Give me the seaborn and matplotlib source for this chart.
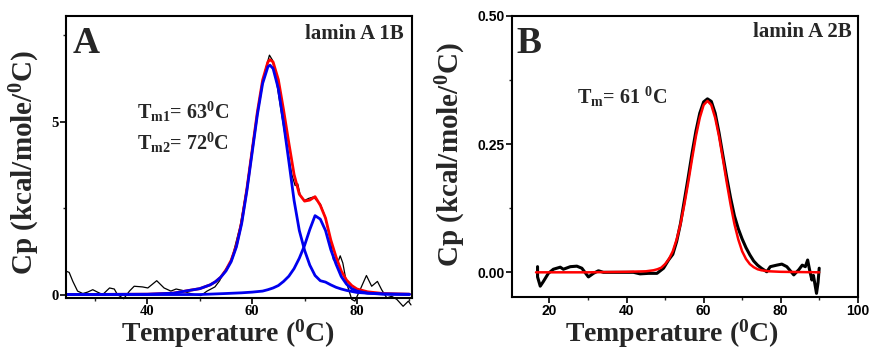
import numpy as np
import matplotlib
matplotlib.use("Agg")
import matplotlib.pyplot as plt
from matplotlib.ticker import MultipleLocator
import seaborn as sns

# ---- panel A: lamin A 1B (raw trace, fit, two components) ----
a_raw_t = [24.6, 25.1, 25.8, 26.7, 27.7, 28.6, 29.6, 30.5, 31.5, 32.8, 33.7, 34.3, 35.5,
           36.6, 37.5, 39.1, 40.1, 41.8, 43.2, 44.5, 45.5, 46.7, 47.7, 49.0, 50.2, 51.4,
           52.9, 53.8, 54.5, 55.8, 56.4, 57.7, 59.0, 60.2, 61.5, 62.5, 63.3, 63.9, 64.7,
           65.7, 66.6, 67.6, 68.2, 68.7, 69.2, 70.0, 70.8, 71.7, 72.3, 73.0, 73.9, 74.9,
           75.5, 76.3, 76.8, 77.3, 78.0, 79.0, 79.6, 80.6, 81.8, 82.8, 83.9, 84.7, 85.7,
           86.6, 87.6, 88.8, 89.8, 90.3]
a_raw_cp = [0.67, 0.64, 0.38, 0.10, 0.03, 0.07, 0.14, 0.07, 0.00, 0.19, 0.16, 0.00, -0.12,
            0.10, 0.24, 0.22, 0.19, 0.40, 0.19, 0.10, 0.16, 0.12, 0.05, 0.00, -0.03, 0.10,
            0.22, 0.40, 0.62, 0.92, 1.20, 1.97, 3.12, 4.47, 5.71, 6.48, 6.92, 6.77, 6.10,
            5.14, 4.30, 3.45, 3.15, 3.20, 2.85, 2.72, 2.78, 2.82, 2.72, 2.62, 2.26, 1.59,
            1.01, 0.91, 1.12, 0.91, 0.34, -0.14, -0.19, 0.14, 0.55, 0.24, 0.38, 0.14, -0.10,
            -0.05, -0.14, -0.34, -0.19, -0.30]

a_fit_t = [24, 40, 45, 48, 50, 52, 53, 54, 55, 56, 57, 58, 59, 60, 61, 62, 63, 63.4, 64,
           65, 66, 67, 68, 69, 70, 71, 72, 73, 74, 75, 76, 77, 78, 79, 80, 82, 85, 90]
a_fit_cp = [0.0, 0.01, 0.04, 0.12, 0.17, 0.28, 0.37, 0.50, 0.71, 0.99, 1.42, 2.10, 3.06,
            4.17, 5.28, 6.20, 6.72, 6.79, 6.72, 6.21, 5.33, 4.38, 3.47, 2.90, 2.70, 2.73,
            2.83, 2.58, 2.21, 1.58, 1.09, 0.68, 0.42, 0.26, 0.16, 0.08, 0.03, 0.01]

a_peak1_t = [24, 40, 45, 48, 50, 52, 53, 54, 55, 56, 57, 58, 59, 60, 61, 62, 63, 63.4, 64,
             65, 66, 67, 68, 69, 70, 71, 72, 73, 74, 75, 76, 77, 78, 79, 80, 82, 85, 90]
a_peak1_cp = [0.0, 0.01, 0.04, 0.12, 0.17, 0.28, 0.37, 0.50, 0.68, 0.95, 1.38, 2.05, 3.00,
              4.10, 5.20, 6.10, 6.58, 6.63, 6.53, 5.95, 4.95, 3.85, 2.72, 1.85, 1.28, 0.85,
              0.55, 0.40, 0.36, 0.28, 0.21, 0.16, 0.12, 0.09, 0.06, 0.04, 0.02, 0.01]

a_peak2_t = [24, 50, 55, 58, 60, 62, 63, 64, 65, 66, 67, 68, 69, 70, 71, 72, 73, 74, 75,
             76, 77, 78, 79, 80, 82, 85, 90]
a_peak2_cp = [0.0, 0.0, 0.03, 0.05, 0.07, 0.10, 0.14, 0.19, 0.26, 0.38, 0.53, 0.75, 1.05,
              1.42, 1.88, 2.28, 2.18, 1.85, 1.30, 0.88, 0.52, 0.30, 0.17, 0.10, 0.04, 0.01, 0.0]

# ---- panel B: lamin A 2B (raw trace and single fit) ----
b_raw_t = [16.9, 16.9, 17.6, 18.4, 19.7, 21.0, 22.8, 23.6, 25.4, 27.1, 28.4, 30.1, 31.4,
           32.7, 34.0, 36.6, 40.0, 41.8, 43.5, 45.7, 47.9, 49.6, 50.9, 52.0, 53.0, 54.0,
           55.0, 56.0, 57.0, 58.0, 59.0, 60.0, 61.0, 62.0, 63.0, 64.0, 65.0, 66.0, 67.0,
           68.0, 69.0, 70.0, 71.0, 72.0, 73.0, 74.0, 75.0, 76.4, 77.3, 79.0, 80.3, 81.6,
           83.4, 84.7, 85.6, 86.4, 87.0, 87.5, 88.1, 88.5, 89.3, 89.7, 90.0]
b_raw_cp = [0.011, -0.009, -0.027, -0.018, -0.002, 0.006, 0.010, 0.006, 0.011, 0.012, 0.008,
            -0.009, -0.002, 0.003, 0.0, 0.0, 0.0, 0.0, -0.003, -0.002, -0.002, 0.008, 0.024,
            0.035, 0.060, 0.095, 0.140, 0.185, 0.232, 0.275, 0.310, 0.332, 0.338, 0.333,
            0.310, 0.272, 0.228, 0.185, 0.145, 0.110, 0.085, 0.065, 0.048, 0.034, 0.022,
            0.014, 0.008, 0.001, 0.011, 0.014, 0.016, 0.011, -0.005, 0.005, 0.014, 0.011,
            0.024, 0.005, -0.015, -0.006, -0.041, -0.020, 0.008]

b_fit_t = [16.5, 20, 30, 40, 45, 47, 48, 49, 50, 51, 52, 53, 54, 55, 56, 57, 58, 59, 60,
           61, 62, 63, 64, 65, 66, 67, 68, 69, 70, 71, 72, 73, 74, 75, 77, 80, 90]
b_fit_cp = [0.0, 0.0, 0.0, 0.001, 0.002, 0.004, 0.006, 0.009, 0.016, 0.026, 0.041, 0.064,
            0.094, 0.132, 0.175, 0.221, 0.265, 0.301, 0.326, 0.334, 0.326, 0.301, 0.265,
            0.221, 0.175, 0.132, 0.094, 0.064, 0.041, 0.026, 0.016, 0.010, 0.006, 0.004,
            0.002, 0.001, 0.0]

sns.set_style("ticks")
plt.rcParams["font.family"] = ["Liberation Serif", "DejaVu Serif"]
plt.rcParams["font.weight"] = "bold"
plt.rcParams["mathtext.fontset"] = "custom"
plt.rcParams["mathtext.rm"] = "Liberation Serif:bold"
plt.rcParams["mathtext.it"] = "Liberation Serif:bold"
plt.rcParams["mathtext.bf"] = "Liberation Serif:bold"
plt.rcParams["mathtext.default"] = "rm"

fig = plt.figure(figsize=(8.7, 3.52), dpi=100)
axA = fig.add_axes([0.0759, 0.1534, 0.3977, 0.8011])
axB = fig.add_axes([0.5882, 0.1571, 0.3977, 0.7983])

# panel A
sns.lineplot(x=a_raw_t, y=a_raw_cp, ax=axA, color="black", lw=0.9, sort=False,
             estimator=None, clip_on=False)
sns.lineplot(x=a_fit_t, y=a_fit_cp, ax=axA, color="#ff0000", lw=2.0, sort=False, estimator=None)
sns.lineplot(x=a_peak1_t, y=a_peak1_cp, ax=axA, color="#0000ee", lw=2.0, sort=False, estimator=None)
sns.lineplot(x=a_peak2_t, y=a_peak2_cp, ax=axA, color="#0000ee", lw=2.0, sort=False, estimator=None)
axA.set_xlim(24.5, 90.5)
axA.set_ylim(-0.1, 8.05)
axA.xaxis.set_major_locator(MultipleLocator(20))
axA.xaxis.set_minor_locator(MultipleLocator(10))
axA.yaxis.set_major_locator(MultipleLocator(5))
axA.yaxis.set_minor_locator(MultipleLocator(2.5))
axA.text(0.02, 0.965, "A", transform=axA.transAxes, fontsize=27, fontweight="bold",
         va="top", ha="left")
axA.text(0.975, 0.935, "lamin A 1B", transform=axA.transAxes, fontsize=15,
         fontweight="bold", va="center", ha="right")
axA.text(38.1, 5.27, r"T$_{\rm m1}$= 63$^{0}$C", fontsize=14.5, va="center", ha="left")
axA.text(38.1, 4.38, r"T$_{\rm m2}$= 72$^{0}$C", fontsize=14.5, va="center", ha="left")
axA.set_xlabel(r"Temperature ($^{0}$C)", fontsize=20, fontweight="bold")
axA.set_ylabel(r"Cp (kcal/mole/$^{0}$C)", fontsize=21, fontweight="bold")
axA.xaxis.set_label_coords(0.467, -0.07)
axA.yaxis.set_label_coords(-0.07, 0.48)
for lab in axA.get_xticklabels() + axA.get_yticklabels():
    lab.set_fontsize(10.5)
    lab.set_fontweight("bold")

# panel B
sns.lineplot(x=b_raw_t, y=b_raw_cp, ax=axB, color="black", lw=2.2, sort=False, estimator=None)
sns.lineplot(x=b_fit_t, y=b_fit_cp, ax=axB, color="#ff0000", lw=1.8, sort=False, estimator=None)
axB.set_xlim(10.2, 100)
axB.set_ylim(-0.0475, 0.5)
axB.xaxis.set_major_locator(MultipleLocator(20))
axB.xaxis.set_minor_locator(MultipleLocator(10))
axB.yaxis.set_major_locator(MultipleLocator(0.25))
axB.yaxis.set_minor_locator(MultipleLocator(0.125))
axB.set_yticks([0.0, 0.25, 0.5])
axB.set_yticklabels(["0.00", "0.25", "0.50"])
axB.text(0.015, 0.965, "B", transform=axB.transAxes, fontsize=27, fontweight="bold",
         va="top", ha="left")
axB.text(0.983, 0.942, "lamin A 2B", transform=axB.transAxes, fontsize=15,
         fontweight="bold", va="center", ha="right")
axB.text(27.1, 0.342, r"T$_{\rm m}$= 61 $^{0}$C", fontsize=14.5, va="center", ha="left")
axB.set_xlabel(r"Temperature ($^{0}$C)", fontsize=20, fontweight="bold")
axB.set_ylabel(r"Cp (kcal/mole/$^{0}$C)", fontsize=21, fontweight="bold")
axB.xaxis.set_label_coords(0.462, -0.075)
axB.yaxis.set_label_coords(-0.125, 0.506)
for lab in axB.get_xticklabels() + axB.get_yticklabels():
    lab.set_fontsize(10)
    lab.set_fontweight("bold")
    lab.set_family(["Liberation Sans", "DejaVu Sans"])

for ax in (axA, axB):
    for sp in ax.spines.values():
        sp.set_visible(True)
        sp.set_linewidth(1.5)
        sp.set_color("black")
    ax.tick_params(which="major", direction="out", length=4, width=1.2, pad=1, colors="black")
    ax.tick_params(which="minor", direction="out", length=2.5, width=1.0)
    ax.grid(False)

fig.savefig("out.png", dpi=100)
